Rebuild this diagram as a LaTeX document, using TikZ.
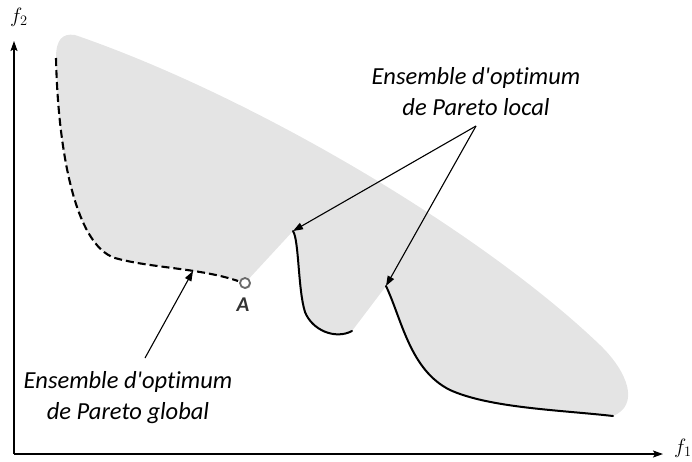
\documentclass[tikz,border=0pt]{standalone}
\usepackage{fontspec}
\setmainfont{Carlito}[Ligatures={TeXOff,CommonOff}]
\usetikzlibrary{arrows.meta,shadows}
\definecolor{regiongray}{HTML}{E4E4E4}
\definecolor{markgray}{HTML}{6A6A6A}
\tikzset{
  axis/.style={line width=1.5pt,-{Stealth[length=10pt,width=7pt,inset=2pt]}},
  pointer/.style={line width=1.1pt,-{Triangle[length=10pt,width=7pt]}},
  front/.style={line width=2pt,line cap=round},
  gfront/.style={line width=2.1pt,dash pattern=on 8pt off 4pt},
  lbl/.style={font=\itshape\fontsize{24.5}{31}\selectfont,align=center,inner sep=0pt},
  ptA/.style={circle,draw=markgray,fill=white,line width=1.8pt,minimum size=10pt,inner sep=0pt,
    drop shadow={shadow xshift=1pt,shadow yshift=-1pt,opacity=0.35}}
}
\begin{document}
\begin{tikzpicture}[x=1pt,y=-1pt]
\useasboundingbox (0,0) rectangle (692,461);
% region
\fill[regiongray] (56,58) .. controls (56,40) and (62,33) .. (75,35)
  .. controls (250,95) and (480,230) .. (600,345)
  .. controls (628,372) and (640,405) .. (613,416)
  .. controls (560,410) and (490,408) .. (450,390)
  .. controls (410,370) and (402,320) .. (386,286)
  -- (352,331)
  .. controls (335,340) and (312,330) .. (305,312)
  .. controls (298,290) and (299,240) .. (293,231)
  -- (245,283)
  .. controls (200,268) and (150,268) .. (115,258)
  .. controls (75,245) and (58,150) .. (56,58) -- cycle;
% axes
\coordinate (O) at (14,454);
\coordinate (Yend) at (14,41);
\coordinate (Xend) at (663,454);
\draw[axis] (O) -- (Yend);
\draw[axis] (O) -- (Xend);
\node (f2) at (19,17) {\fontsize{20}{20}\selectfont$f_2$};
\node (f1) at (683,448) {\fontsize{20}{20}\selectfont$f_1$};
% fronts
\coordinate (g0) at (56,58);
\coordinate (gm) at (115,258);
\coordinate (gA) at (245,283);
\coordinate (l1a) at (293,231);
\coordinate (l1m) at (305,312);
\coordinate (l1b) at (352,331);
\coordinate (l2a) at (386,286);
\coordinate (l2m) at (450,390);
\coordinate (l2b) at (613,416);
\draw[gfront] (g0) .. controls (58,150) and (75,245) .. (gm)
  .. controls (150,268) and (200,268) .. (238,281);
\draw[front] (l1a) .. controls (299,240) and (298,290) .. (l1m)
  .. controls (312,330) and (335,340) .. (l1b);
\draw[front] (l2a) .. controls (402,320) and (410,370) .. (l2m)
  .. controls (490,408) and (560,410) .. (l2b);
% point A
\node[ptA] (A) at (gA) {};
\node[font=\bfseries\itshape\fontsize{21}{21}\selectfont,text=black!80] (Alab) at (243,305) {A};
% labels
\node[lbl] (loc) at (476,92) {Ensemble d'optimum\\de Pareto local};
\node[lbl] (glob) at (128,398) {Ensemble d'optimum\\de Pareto global};
\coordinate (locapex) at (476,126);
\coordinate (globstart) at (145,358);
\coordinate (globtip) at (193,271);
\draw[pointer] (locapex) -- (l1a);
\draw[pointer] (locapex) -- (l2a);
\draw[pointer] (globstart) -- (globtip);
\end{tikzpicture}
\end{document}
